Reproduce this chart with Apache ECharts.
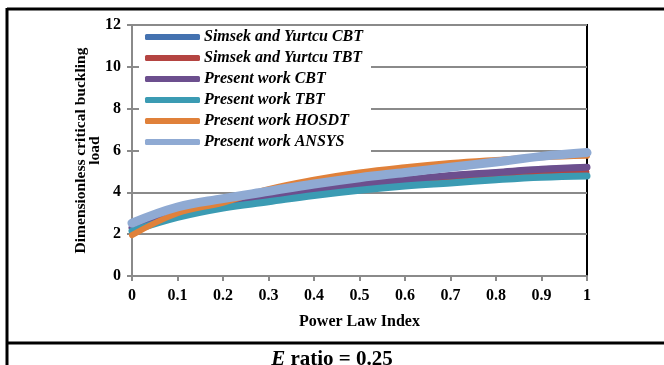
<!DOCTYPE html>
<html>
<head>
<meta charset="utf-8">
<script src="https://cdn.jsdelivr.net/npm/echarts@6/dist/echarts.min.js"></script>
<style>
  html, body { margin: 0; padding: 0; background: #fff; }
  #chart { width: 664px; height: 365px; }
</style>
</head>
<body>
<div id="chart"></div>
<script>
// Power law index (x) and dimensionless critical buckling load for each model
const powerLawIndex = [0, 0.1, 0.2, 0.3, 0.4, 0.5, 0.6, 0.7, 0.8, 0.9, 1];
const simsekCBT   = [2.30, 3.10, 3.50, 3.85, 4.15, 4.40, 4.60, 4.80, 4.95, 5.10, 5.20];
const simsekTBT   = [2.20, 2.90, 3.35, 3.65, 3.95, 4.20, 4.40, 4.60, 4.75, 4.90, 4.97];
const presentCBT  = [2.30, 3.10, 3.50, 3.85, 4.15, 4.40, 4.60, 4.80, 4.95, 5.10, 5.20];
const presentTBT  = [2.15, 2.80, 3.25, 3.55, 3.85, 4.10, 4.30, 4.45, 4.60, 4.72, 4.78];
const presentHOSDT = [1.95, 3.00, 3.50, 4.15, 4.60, 4.95, 5.20, 5.40, 5.55, 5.68, 5.75];
const presentANSYS = [2.53, 3.30, 3.70, 4.05, 4.40, 4.70, 4.95, 5.20, 5.45, 5.72, 5.90];
const yTicks = [0, 2, 4, 6, 8, 10, 12];

const seriesDefs = [
  { name: 'Simsek and Yurtcu CBT', data: simsekCBT,    color: '#4472b0', width: 6 },
  { name: 'Simsek and Yurtcu TBT', data: simsekTBT,    color: '#b44441', width: 5 },
  { name: 'Present work CBT',      data: presentCBT,   color: '#6c4f8e', width: 7 },
  { name: 'Present work TBT',      data: presentTBT,   color: '#3b9bb3', width: 7 },
  { name: 'Present work HOSDT',    data: presentHOSDT, color: '#e0813a', width: 6 },
  { name: 'Present work ANSYS',    data: presentANSYS, color: '#8faad3', width: 9 }
];

const serif = '"Liberation Serif", "Times New Roman", serif';
const chart = echarts.init(document.getElementById('chart'), null, { renderer: 'canvas' });

chart.setOption({
  animation: false,
  backgroundColor: '#fff',
  title: {
    text: '{i|E} ratio = 0.25',
    left: 'center',
    top: 344,
    textStyle: {
      fontFamily: serif, fontWeight: 'bold', fontSize: 21, color: '#000',
      rich: { i: { fontFamily: serif, fontWeight: 'bold', fontStyle: 'italic', fontSize: 21, color: '#000' } }
    }
  },
  graphic: [
    { type: 'line', shape: { x1: 7, y1: 9, x2: 664, y2: 9 }, style: { stroke: '#000', lineWidth: 3 } },
    { type: 'line', shape: { x1: 7, y1: 8, x2: 7, y2: 365 }, style: { stroke: '#000', lineWidth: 3 } },
    { type: 'line', shape: { x1: 7, y1: 343, x2: 664, y2: 343 }, style: { stroke: '#000', lineWidth: 3 } }
  ],
  grid: {
    left: 132, right: 77, top: 25, bottom: 89,
    show: true, borderColor: '#000', borderWidth: 2, backgroundColor: '#fff'
  },
  legend: {
    orient: 'vertical',
    left: 139, top: 27,
    backgroundColor: '#fff',
    padding: [2, 8, 2, 6],
    itemWidth: 55, itemHeight: 6, itemGap: 5,
    icon: 'roundRect',
    textStyle: { fontFamily: serif, fontWeight: 'bold', fontStyle: 'italic', fontSize: 16, color: '#000', lineHeight: 16, padding: [0, 0, 0, -1] },
    data: seriesDefs.map(s => ({ name: s.name, itemStyle: { color: s.color } }))
  },
  xAxis: {
    type: 'value', min: 0, max: 1, interval: 0.1,
    name: 'Power Law Index', nameLocation: 'middle', nameGap: 38, nameMoveOverlap: false,
    nameTextStyle: { fontFamily: serif, fontWeight: 'bold', fontSize: 16, color: '#000' },
    axisLine: { onZero: false, lineStyle: { color: '#8a8a8a', width: 2 } },
    axisTick: { show: true, length: 5, lineStyle: { color: '#8a8a8a', width: 2 } },
    axisLabel: {
      margin: 12, fontFamily: serif, fontWeight: 'bold', fontSize: 16, color: '#000',
      formatter: v => String(parseFloat(v.toFixed(1)))
    },
    splitLine: { show: false }
  },
  yAxis: {
    type: 'value', min: yTicks[0], max: yTicks[yTicks.length - 1], interval: 2,
    name: 'Dimensionless critical buckling\nload', nameLocation: 'middle', nameGap: 30, nameMoveOverlap: false,
    nameTextStyle: { fontFamily: serif, fontWeight: 'bold', fontSize: 15.5, color: '#000', lineHeight: 14 },
    axisLine: { show: true, lineStyle: { color: '#8a8a8a', width: 2 } },
    axisTick: { show: true, length: 5, lineStyle: { color: '#8a8a8a', width: 2 } },
    axisLabel: { margin: 11, fontFamily: serif, fontWeight: 'bold', fontSize: 16, color: '#000' },
    splitLine: { show: true, lineStyle: { color: '#8a8a8a', width: 2 } }
  },
  series: seriesDefs.map(s => ({
    name: s.name,
    type: 'line',
    smooth: 0.4,
    symbol: 'none',
    color: s.color,
    lineStyle: { color: s.color, width: s.width, cap: 'round', join: 'round' },
    data: powerLawIndex.map((x, i) => [x, s.data[i]])
  }))
});
</script>
</body>
</html>
